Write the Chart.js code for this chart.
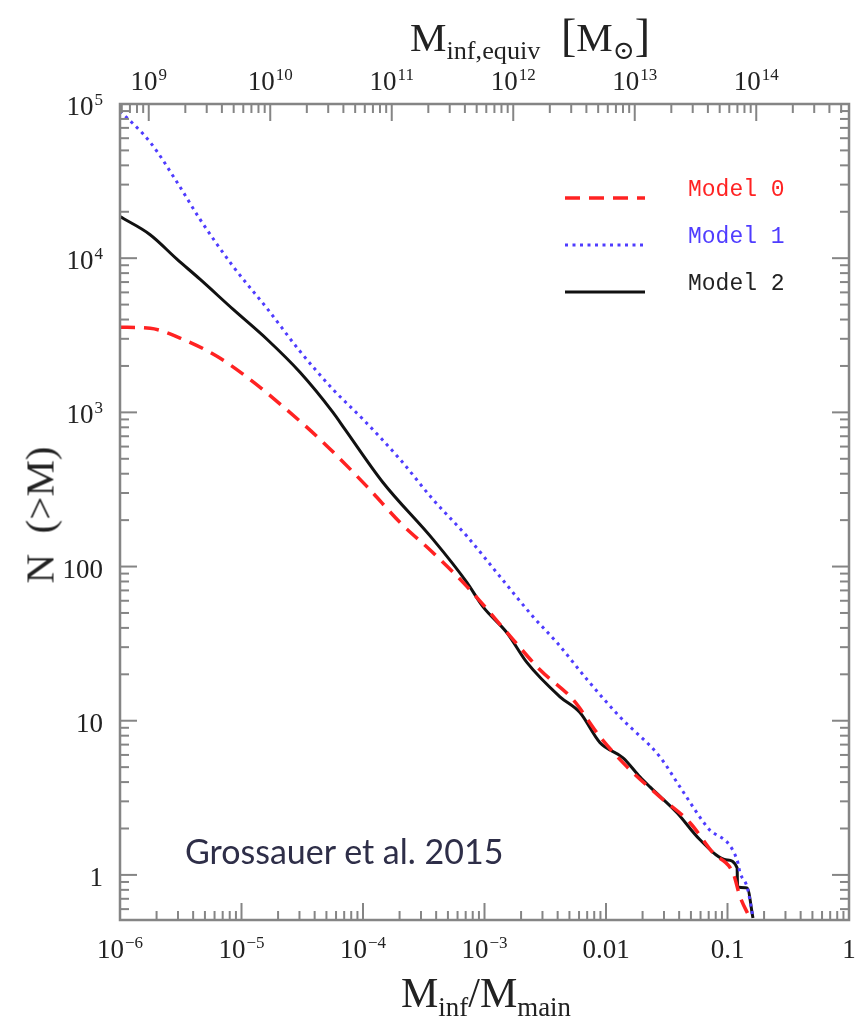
<!DOCTYPE html>
<html>
<head>
<meta charset="utf-8">
<script src="https://cdn.jsdelivr.net/npm/chart.js@4.4.1/dist/chart.umd.min.js"></script>
<style>
  body { margin: 0; background: #fff; }
  #wrap { position: relative; width: 856px; height: 1031px; }
  .ttl { position: absolute; font-family: "Liberation Serif", "DejaVu Serif", serif; color: #222; white-space: nowrap; line-height: 1; }
  .ttl sub { font-size: 0.64em; vertical-align: -0.32em; line-height: 0; }
  #credit { position: absolute; left: 185px; top: 834px; font-family: Lato, "Open Sans", sans-serif; font-size: 34px; line-height: 1; color: #2e2e48; white-space: nowrap; }
</style>
</head>
<body>
<div id="wrap">
  <canvas id="chart" width="856" height="1031"></canvas>
  <div class="ttl" style="left:410px;top:13px;font-size:41px;">M<sub>inf,equiv</sub>&nbsp;&nbsp;<span style="font-size:46px">[</span>M<sub>⊙</sub><span style="font-size:46px">]</span></div>
  <div class="ttl" style="left:486px;top:972px;font-size:42px;transform:translateX(-50%);">M<sub>inf</sub>/M<sub>main</sub></div>
  <div class="ttl" style="left:40px;top:515px;font-size:41px;transform:translate(-50%,-50%) rotate(-90deg);">N&nbsp;&nbsp;(&gt;M)</div>
  <div id="credit">Grossauer et al. 2015</div>
</div>
<script>
// cumulative subhalo counts N(>M) vs M_inf/M_main
const M0_X = [1e-6, 1.77e-6, 3.3e-6, 6.28e-6, 1.17e-5, 2.2e-5, 4.43e-5, 1.08e-4, 2.02e-4, 3.77e-4, 7.18e-4, 1.72e-3, 2.86e-3, 5.35e-3, 8.93e-3, 0.0149, 0.0278, 0.0491, 0.076, 0.111, 0.127, 0.153];
const M0_Y = [3565, 3510, 2980, 2310, 1640, 1090, 668, 330, 193, 123, 74.1, 33.6, 21.4, 13.7, 7.87, 5.02, 3.21, 2.18, 1.39, 1.03, 0.72, 0.526];

const M1_X = [1e-6, 1.77e-6, 2.94e-6, 4.55e-6, 8.51e-6, 1.62e-5, 3.03e-5, 5.66e-5, 1e-4, 2.02e-4, 3.77e-4, 7.18e-4, 1.34e-3, 2.51e-3, 3.95e-3, 6.98e-3, 0.013, 0.0278, 0.0406, 0.0678, 0.12, 0.127, 0.145, 0.162];
const M1_Y = [90200, 56600, 31200, 17900, 8870, 4730, 2490, 1410, 902, 495, 272, 157, 86.1, 47.3, 32.1, 18.5, 10.6, 5.83, 3.72, 2.05, 1.25, 1.03, 0.836, 0.533];

const M2_X = [1e-6, 1.77e-6, 2.94e-6, 4.55e-6, 8.5e-6, 1.62e-5, 3.03e-5, 5.66e-5, 7.11e-5, 1.46e-4, 3.77e-4, 7.18e-4, 9.7e-4, 1.53e-3, 2.24e-3, 4.18e-3, 6.1e-3, 8.93e-3, 0.0138, 0.019, 0.023, 0.0384, 0.0594, 0.099, 0.12, 0.121, 0.145, 0.162];
const M2_Y = [18600, 14200, 9860, 7310, 4670, 2980, 1820, 1000, 776, 351, 150, 78.7, 55, 37.2, 23.8, 14.3, 11.3, 7.2, 5.75, 4.33, 3.72, 2.53, 1.69, 1.25, 1.11, 0.836, 0.824, 0.526];

const MODEL_NAMES = ['Model 0', 'Model 1', 'Model 2'];

// tick labels, "^" marks the exponent
const X_TICKS = [1e-6, 1e-5, 1e-4, 1e-3, 0.01, 0.1, 1];
const X_LABELS = ['10^−6', '10^−5', '10^−4', '10^−3', '0.01', '0.1', '1'];
const Y_TICKS = [1, 10, 100, 1e3, 1e4, 1e5];
const Y_LABELS = ['1', '10', '100', '10^3', '10^4', '10^5'];
const TOP_TICKS = [1e9, 1e10, 1e11, 1e12, 1e13, 1e14];
const TOP_LABELS = ['10^9', '10^10', '10^11', '10^12', '10^13', '10^14'];

const M_MAIN = 5.8e14;  // equivalent host mass for the top axis

const pts = (xs, ys) => xs.map((x, i) => ({ x: x, y: ys[i] }));

const SERIF = '"Liberation Serif", "DejaVu Serif", serif';

function powLabel(ctx, text, x, y, align) {
  const [base, exp] = text.split('^');
  ctx.font = '27px ' + SERIF;
  const wb = ctx.measureText(base).width;
  ctx.font = '17px ' + SERIF;
  const we = exp ? ctx.measureText(exp).width + 1 : 0;
  const total = wb + we;
  let x0 = align === 'right' ? x - total : x - total / 2;
  ctx.font = '27px ' + SERIF;
  ctx.fillText(base, x0, y);
  if (exp) {
    ctx.font = '17px ' + SERIF;
    ctx.fillText(exp, x0 + wb + 1, y - 10);
  }
}

// box with inward ticks on all four sides, plus tick labels
const frame = {
  id: 'frame',
  afterDatasetsDraw(chart) {
    const { ctx, chartArea: a, scales } = chart;
    ctx.save();
    ctx.strokeStyle = '#858585';
    ctx.lineWidth = 2;
    const line = (x1, y1, x2, y2) => { ctx.beginPath(); ctx.moveTo(x1, y1); ctx.lineTo(x2, y2); ctx.stroke(); };
    const marks = (scale, lo, hi) => {
      const out = [];
      for (let d = lo; d <= hi; d++) {
        for (let k = 1; k < 10; k++) {
          const v = k * Math.pow(10, d);
          if (v >= scale.min * 0.999 && v <= scale.max * 1.001) out.push([scale.getPixelForValue(v), k === 1]);
        }
      }
      return out;
    };
    marks(scales.x, -6, 0).forEach(([p, maj]) => line(p, a.bottom, p, a.bottom - (maj ? 17 : 9)));
    marks(scales.x2, 8, 15).forEach(([p, maj]) => line(p, a.top, p, a.top + (maj ? 17 : 9)));
    marks(scales.y, -1, 5).forEach(([p, maj]) => {
      line(a.left, p, a.left + (maj ? 17 : 9), p);
      line(a.right, p, a.right - (maj ? 17 : 9), p);
    });
    ctx.lineWidth = 2.5;
    ctx.strokeRect(a.left, a.top, a.right - a.left, a.bottom - a.top);

    ctx.fillStyle = '#222';
    ctx.textBaseline = 'alphabetic';
    ctx.textAlign = 'left';
    X_TICKS.forEach((v, i) => powLabel(ctx, X_LABELS[i], scales.x.getPixelForValue(v), a.bottom + 38, 'center'));
    TOP_TICKS.forEach((v, i) => powLabel(ctx, TOP_LABELS[i], scales.x2.getPixelForValue(v), a.top - 14, 'center'));
    Y_TICKS.forEach((v, i) => powLabel(ctx, Y_LABELS[i], a.left - 17, scales.y.getPixelForValue(v) + 11, 'right'));
    ctx.restore();
  }
};

// legend in the upper right of the plot
const legendBox = {
  id: 'legendBox',
  afterDraw(chart) {
    const ctx = chart.ctx;
    ctx.save();
    chart.data.datasets.forEach((ds, i) => {
      const y = 198 + i * 47;
      ctx.strokeStyle = ds.borderColor;
      ctx.lineWidth = ds.borderWidth;
      ctx.setLineDash(ds.borderDash || []);
      ctx.beginPath();
      ctx.moveTo(565, y);
      ctx.lineTo(645, y);
      ctx.stroke();
      ctx.setLineDash([]);
      ctx.fillStyle = ds.textColor;
      ctx.font = '23px "Liberation Mono", "DejaVu Sans Mono", monospace';
      ctx.textBaseline = 'middle';
      ctx.fillText(ds.label, 688, y - 8);
    });
    ctx.restore();
  }
};

const hidden = { display: false };

new Chart(document.getElementById('chart').getContext('2d'), {
  type: 'line',
  data: {
    datasets: [
      { label: MODEL_NAMES[0], data: pts(M0_X, M0_Y), borderColor: '#ff2222', textColor: '#ff2222', borderDash: [15, 9], borderWidth: 3.5, xAxisID: 'x', yAxisID: 'y' },
      { label: MODEL_NAMES[1], data: pts(M1_X, M1_Y), borderColor: '#4f3cff', textColor: '#4f3cff', borderDash: [3, 4.5], borderWidth: 3, xAxisID: 'x', yAxisID: 'y' },
      { label: MODEL_NAMES[2], data: pts(M2_X, M2_Y), borderColor: '#111111', textColor: '#222222', borderWidth: 3, xAxisID: 'x', yAxisID: 'y' }
    ]
  },
  options: {
    responsive: false,
    animation: false,
    devicePixelRatio: 1,
    elements: { point: { radius: 0 }, line: { tension: 0, cubicInterpolationMode: 'monotone', fill: false } },
    layout: { padding: { left: 0, right: 7, top: 0, bottom: 0 } },
    plugins: { legend: { display: false }, tooltip: { enabled: false } },
    scales: {
      x: {
        type: 'logarithmic', position: 'bottom', min: 1e-6, max: 1,
        grid: hidden, border: hidden, ticks: hidden,
        afterFit: s => { s.height = 111; }
      },
      x2: {
        type: 'logarithmic', position: 'top', min: 1e-6 * M_MAIN, max: M_MAIN,
        grid: hidden, border: hidden, ticks: hidden,
        afterFit: s => { s.height = 104; }
      },
      y: {
        type: 'logarithmic', position: 'left', min: 0.51, max: 1e5,
        grid: hidden, border: hidden, ticks: hidden,
        afterFit: s => { s.width = 120; }
      }
    }
  },
  plugins: [frame, legendBox]
});
</script>
</body>
</html>
